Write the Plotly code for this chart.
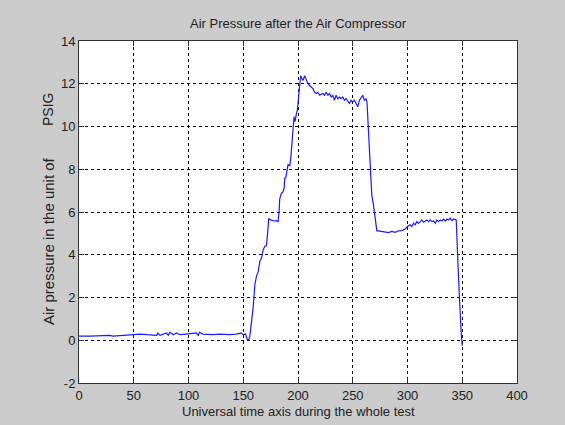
import plotly.graph_objects as go

# Time axis (universal time during the whole test)
time = [0, 1, 10, 22, 28, 31, 40, 50, 56, 62, 71, 72, 74, 80, 81.5, 83, 86, 89, 92, 98,
        107, 109, 110, 113, 122.5, 128.5, 137.7, 143.8, 148, 150, 152, 153.8, 155, 156,
        157.5, 159, 160.6, 162.1, 163.6, 165.2, 166.7, 168.2, 169.7, 171.2, 172.1, 173.3,
        174.8, 178.8, 180.3, 181.8, 182.7, 183.3, 184.8, 186.4, 187.3, 187.9, 188.8, 190,
        190.9, 192.4, 193.3, 194.5, 195.5, 196.4, 197, 197.6, 198.5, 199.4, 200, 200.9,
        201.5, 202.4, 203.6, 204.5, 206.1, 207.6, 209, 210.6, 212.1, 213.6, 215.2, 216.7,
        218.2, 219.7, 222.7, 224.2, 225.8, 227.3, 228.8, 230.3, 231.8, 233.3, 234.8, 236.4,
        237.9, 239.4, 240.9, 242.4, 243.9, 245.5, 247, 248.5, 250, 251.5, 253, 254.5, 256.1,
        257.6, 259.1, 260.6, 262.1, 263, 263.6, 264.5, 265.2, 266.1, 266.7, 267.4, 268.9,
        269.8, 271, 272, 273.5, 276.5, 279.6, 282.6, 285.7, 288.7, 291.8, 294.8, 297.9,
        300, 302.4, 304, 305.5, 307, 308.5, 310, 311.6, 313.1, 314.6, 316.2, 317.7, 319.2,
        320.7, 322.3, 323.8, 325.3, 326.8, 328.4, 329.9, 331.4, 332.9, 334.5, 336, 337.5,
        339, 340.5, 342.1, 344.5, 345.1, 346, 347.3, 348.2, 349.1, 350]

# Air pressure (PSIG)
pressure = [0.2, 0.19, 0.19, 0.22, 0.23, 0.19, 0.22, 0.26, 0.29, 0.26, 0.23, 0.34, 0.23,
            0.34, 0.23, 0.37, 0.26, 0.34, 0.26, 0.29, 0.34, 0.23, 0.37, 0.29, 0.26, 0.29,
            0.26, 0.29, 0.34, 0.26, 0.29, 0.03, 0.0, 0.19, 0.73, 1.5, 2.6, 3.0, 3.2, 3.7,
            3.85, 4.23, 4.4, 4.42, 4.93, 5.7, 5.63, 5.58, 5.6, 5.55, 6.0, 6.6, 6.87, 6.95,
            7.1, 7.57, 7.6, 8.0, 8.23, 8.15, 8.46, 9.23, 10.08, 10.46, 10.23, 10.3, 10.6,
            10.77, 11.08, 11.7, 12.15, 12.38, 12.23, 12.15, 12.38, 12.15, 12.0, 11.92, 11.85,
            11.77, 11.6, 11.54, 11.6, 11.46, 11.54, 11.46, 11.6, 11.46, 11.54, 11.38, 11.46,
            11.23, 11.46, 11.3, 11.38, 11.3, 11.38, 11.23, 11.3, 11.15, 11.08, 11.23, 11.15,
            11.23, 11.08, 10.92, 11.23, 11.38, 11.46, 11.23, 11.3, 11.15, 10.46, 9.54, 8.92,
            8.0, 7.08, 6.79, 6.33, 6.0, 5.55, 5.12, 5.12, 5.09, 5.05, 5.04, 5.09, 5.05, 5.12,
            5.13, 5.2, 5.32, 5.4, 5.32, 5.47, 5.4, 5.55, 5.47, 5.55, 5.63, 5.52, 5.58, 5.63,
            5.55, 5.63, 5.55, 5.58, 5.47, 5.63, 5.55, 5.63, 5.58, 5.67, 5.58, 5.67, 5.63,
            5.71, 5.6, 5.67, 5.63, 5.09, 3.69, 2.14, 1.05, 0.28, -0.26]

x_ticks = [0, 50, 100, 150, 200, 250, 300, 350, 400]
y_ticks = [-2, 0, 2, 4, 6, 8, 10, 12, 14]

FONT = "Arial, Liberation Sans, sans-serif"
BG = "#cbcbcb"
TXT = "#222222"

fig = go.Figure()
fig.add_trace(go.Scatter(x=time, y=pressure, mode="lines",
                         line=dict(color="#1a1aff", width=1.2), showlegend=False))

axis_common = dict(showgrid=True, gridcolor="black", griddash="dot", gridwidth=1,
                   showline=True, linecolor="#333333", linewidth=1, mirror="ticks",
                   ticks="inside", ticklen=5, tickcolor="#333333", zeroline=False,
                   tickfont=dict(family=FONT, size=13, color=TXT))

H = 342.0  # plot height in px
W = 438.0  # plot width in px

fig.update_layout(
    width=565, height=425,
    paper_bgcolor=BG, plot_bgcolor="white",
    margin=dict(l=79, r=48, t=41, b=42),
    xaxis=dict(range=[0, 400], tickvals=x_ticks, ticktext=[str(v) for v in x_ticks],
               **axis_common),
    yaxis=dict(range=[-2, 14], tickvals=y_ticks, ticktext=[str(v) for v in y_ticks],
               **axis_common),
    annotations=[
        dict(text="Air Pressure after the Air Compressor", xref="paper", yref="paper",
             x=0.5, y=1 + 17 / H, xanchor="center", yanchor="middle", showarrow=False,
             font=dict(family=FONT, size=13, color=TXT)),
        dict(text="Universal time axis during the whole test", xref="paper", yref="paper",
             x=0.5, y=-28 / H, xanchor="center", yanchor="middle", showarrow=False,
             font=dict(family=FONT, size=13, color=TXT)),
        dict(text="Air pressure in the unit of",
             xref="paper", yref="paper", textangle=-90,
             x=-31 / W, y=(383 - 241) / H, xanchor="center", yanchor="middle",
             showarrow=False, font=dict(family=FONT, size=15, color=TXT)),
        dict(text="PSIG",
             xref="paper", yref="paper", textangle=-90,
             x=-31 / W, y=(383 - 110) / H, xanchor="center", yanchor="middle",
             showarrow=False, font=dict(family=FONT, size=14, color=TXT)),
    ],
)

fig.write_html("out.html")
